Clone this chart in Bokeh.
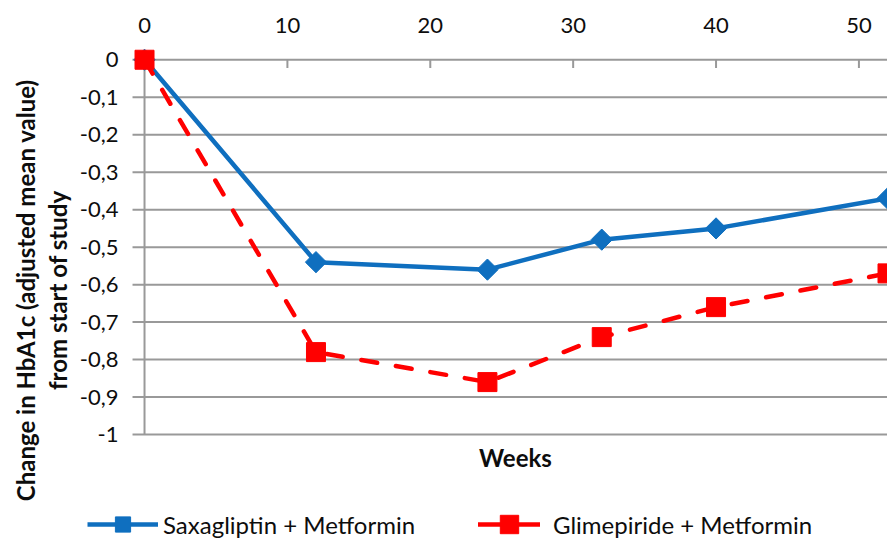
import math

from bokeh.core.properties import value
from bokeh.embed import file_html
from bokeh.models import FixedTicker, Label, Legend, LegendItem, Range1d
from bokeh.plotting import figure
from bokeh.resources import INLINE

# Change in HbA1c (adjusted mean) over the study, by treatment arm
weeks = [0, 12, 24, 32, 40, 52]
saxagliptin = [0, -0.54, -0.56, -0.48, -0.45, -0.37]
glimepiride = [0, -0.78, -0.86, -0.74, -0.66, -0.57]

week_ticks = [0, 10, 20, 30, 40, 50]
change_ticks = [0, -0.1, -0.2, -0.3, -0.4, -0.5, -0.6, -0.7, -0.8, -0.9, -1.0]
change_labels = ["0", "-0,1", "-0,2", "-0,3", "-0,4", "-0,5", "-0,6", "-0,7", "-0,8", "-0,9", "-1"]

FONT = "Lato"
BLUE = "#0F6FBF"
RED = "#FF0000"
GRID = "#999999"
TEXT = "#0d0d0d"

X_START, X_END = -10.08, 52      # plotting area reaches the left edge of the canvas
Y_START, Y_END = -1.28, 0.03     # room below -1 for the x title and the legend
GRID_X0 = -0.84                  # gridlines poke out left of the value axis like tick marks
TICK_LEN = 0.022                 # length of the week tick marks below the zero line

p = figure(
    width=887, height=539,
    output_backend="svg", toolbar_location=None,
    x_range=Range1d(X_START, X_END), y_range=Range1d(Y_START, Y_END),
    x_axis_location="above", y_axis_location=None,
    min_border_left=0, min_border_right=0, min_border_top=48, min_border_bottom=0,
)
p.outline_line_color = None
p.xgrid.grid_line_color = None
p.ygrid.grid_line_color = None

# week axis along the top
xa = p.xaxis[0]
xa.ticker = FixedTicker(ticks=week_ticks)
xa.axis_line_color = None
xa.major_tick_in = 0
xa.major_tick_out = 0
xa.minor_tick_line_color = None
xa.major_label_standoff = 16
xa.major_label_text_font = FONT
xa.major_label_text_font_size = "22px"
xa.major_label_text_color = TEXT

# horizontal gridlines, value-axis line and week tick marks
n = len(change_ticks)
p.segment(x0=[GRID_X0] * n, y0=change_ticks, x1=[X_END] * n, y1=change_ticks,
          line_color=GRID, line_width=2)
p.segment(x0=[week_ticks[0]], y0=[change_ticks[0]], x1=[week_ticks[0]], y1=[change_ticks[-1]],
          line_color=GRID, line_width=2)
m = len(week_ticks) - 1
p.segment(x0=week_ticks[1:], y0=[change_ticks[0]] * m, x1=week_ticks[1:],
          y1=[change_ticks[0] - TICK_LEN] * m, line_color=GRID, line_width=2)

# value-axis labels (decimal comma)
p.text(x=[week_ticks[0]] * n, y=change_ticks, text=change_labels, x_offset=-26,
       text_align="right", text_baseline="middle", text_font=value(FONT),
       text_font_size="22px", text_color=TEXT)

# series
sax_line = p.line(weeks, saxagliptin, line_color=BLUE, line_width=4.5)
sax_pts = p.scatter(weeks, saxagliptin, marker="square", angle=math.pi / 4, size=15,
                    fill_color=BLUE, line_color=BLUE)
gli_line = p.line(weeks, glimepiride, line_color=RED, line_width=4.5,
                  line_dash="16 19", line_cap="round")
gli_pts = p.scatter(weeks, glimepiride, marker="square", size=19,
                    fill_color=RED, line_color=RED)
# solid stroke with no drawable points, used only as the legend key of the dashed series
nan = float("nan")
gli_key = p.line(x=[nan, nan], y=[nan, nan], line_color=RED, line_width=4.5, line_cap="round")

# axis titles
title_kw = dict(text_font=FONT, text_font_size="24px", text_font_style="bold",
                text_color=TEXT, angle=math.pi / 2, text_align="center",
                text_baseline="middle")
p.add_layout(Label(x=-8.33, y=-0.615, text="Change in HbA1c (adjusted mean value)", **title_kw))
p.add_layout(Label(x=-6.09, y=-0.615, text="from start of study", **title_kw))
p.add_layout(Label(x=25.96, y=-1.061, text="Weeks", text_font=FONT,
                   text_font_size="24px", text_font_style="bold", text_color=TEXT,
                   text_align="center", text_baseline="middle"))

legend_kw = dict(orientation="horizontal", label_text_font=FONT,
                 label_text_font_size="24px", label_text_color=TEXT,
                 border_line_color=None, background_fill_alpha=0, padding=0, margin=0)
p.add_layout(Legend(
    items=[LegendItem(label="Saxagliptin + Metformin", renderers=[sax_line, sax_pts])],
    location=(87, -4), glyph_width=71, glyph_height=38, label_standoff=5, **legend_kw,
), "center")
p.add_layout(Legend(
    items=[LegendItem(label="Glimepiride + Metformin", renderers=[gli_key, gli_pts])],
    location=(478, -8), glyph_width=62, glyph_height=46, label_standoff=13, **legend_kw,
), "center")

open("out.html", "w").write(file_html(p, INLINE))
